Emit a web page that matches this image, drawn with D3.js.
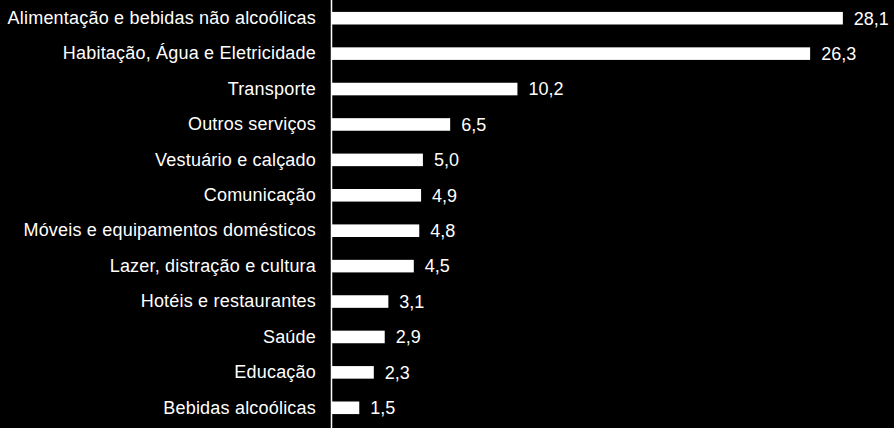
<!DOCTYPE html>
<html>
<head>
<meta charset="utf-8">
<script src="https://cdn.jsdelivr.net/npm/d3@7"></script>
<style>
  html, body { margin: 0; padding: 0; background: #000; }
  svg { display: block; }
  text { font-family: "Liberation Sans", Arial, sans-serif; fill: #fff; }
</style>
</head>
<body>
<svg id="chart" width="894" height="428"></svg>
<script>
const categories = [
  "Alimentação e bebidas não alcoólicas",
  "Habitação, Água e Eletricidade",
  "Transporte",
  "Outros serviços",
  "Vestuário e calçado",
  "Comunicação",
  "Móveis e equipamentos domésticos",
  "Lazer, distração e cultura",
  "Hotéis e restaurantes",
  "Saúde",
  "Educação",
  "Bebidas alcoólicas"
];
const values = [28.1, 26.3, 10.2, 6.5, 5.0, 4.9, 4.8, 4.5, 3.1, 2.9, 2.3, 1.5];

const W = 894, H = 428;
const x0 = 331;
const svg = d3.select("#chart");
svg.append("rect").attr("width", W).attr("height", H).attr("fill", "#000");

const x = d3.scaleLinear().domain([0, 30]).range([x0, x0 + 30 * 18.18]);
const y = d3.scaleBand().domain(categories).range([0.5, 425.5]).paddingInner(0.645).paddingOuter(0.3225);

const fmt = v => d3.format(".1f")(v).replace(".", ",");

svg.selectAll("rect.bar").data(values).join("rect")
  .attr("class", "bar")
  .attr("x", x(0) + 1)
  .attr("y", (d, i) => y(categories[i]))
  .attr("width", d => x(d) - x(0))
  .attr("height", y.bandwidth())
  .attr("fill", "#fff");

const yAxis = d3.axisLeft(y).tickSize(0).tickPadding(15);
const gy = svg.append("g").attr("transform", `translate(${x0},0)`).call(yAxis);
gy.select(".domain").remove();
gy.selectAll("text").attr("font-size", 18).attr("fill", "#fff")
  .attr("letter-spacing", 0.2)
  .attr("font-family", "'Liberation Sans', Arial, sans-serif");

svg.append("line").attr("x1", x0 + 0.5).attr("x2", x0 + 0.5).attr("y1", 0).attr("y2", H)
  .attr("stroke", "#fff").attr("stroke-width", 1.5);

svg.selectAll("text.val").data(values).join("text")
  .attr("class", "val")
  .attr("x", d => x(d) + 12)
  .attr("y", (d, i) => y(categories[i]) + y.bandwidth() / 2)
  .attr("dy", "0.35em")
  .attr("font-size", 18)
  .text(d => fmt(d));
</script>
</body>
</html>
